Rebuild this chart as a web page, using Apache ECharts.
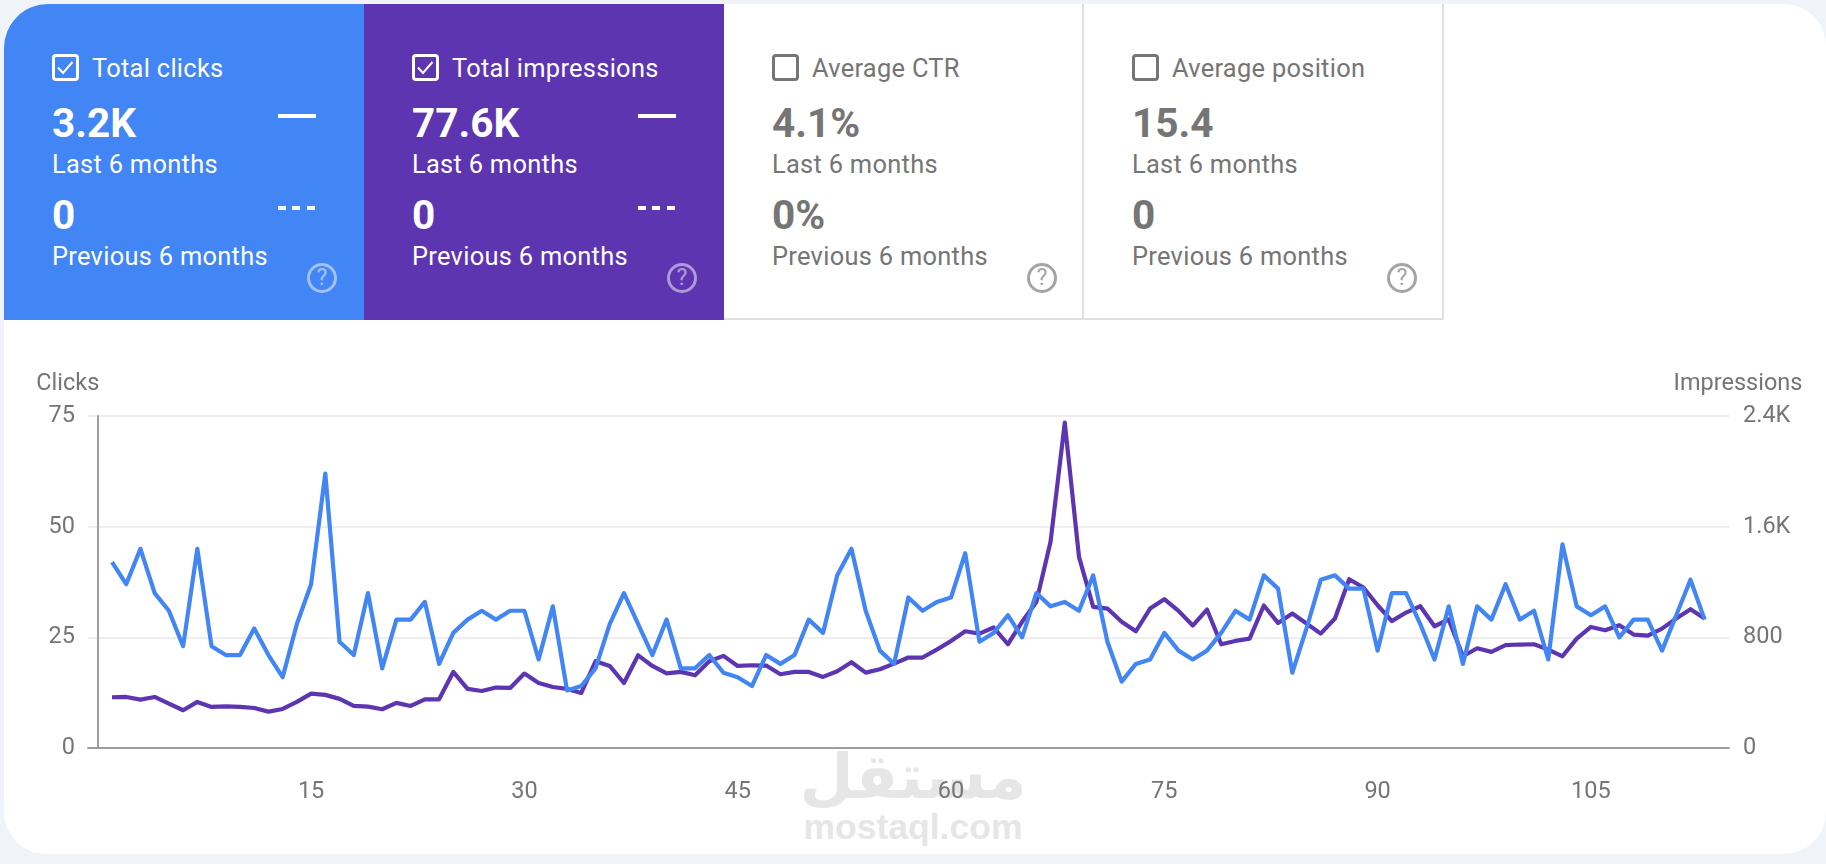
<!DOCTYPE html>
<html style="height: 100%">
<head>
    <meta charset="utf-8">
    <title>Performance</title>
    <script src="https://cdn.jsdelivr.net/npm/echarts@6/dist/echarts.min.js"></script>
    <style>
        html, body { margin: 0; height: 100%; overflow: hidden; background: #f0f4f9; font-family: Roboto, sans-serif; }
        #page { position: absolute; left: 4px; top: 4px; width: 1822px; height: 850px; background: #fff; border-radius: 42px; }
        #container { position: absolute; left: 0; top: 0; width: 1826px; height: 864px; }
        .card { position: absolute; top: 4px; width: 360px; height: 316px; box-sizing: border-box; color: #757575; }
        .card.on { color: #fff; }
        .card.off { border-right: 2px solid #e0e0e0; border-bottom: 2px solid #e0e0e0; }
        .card div { position: absolute; white-space: nowrap; }
        .box { left: 48px; top: 50px; width: 27px; height: 27px; box-sizing: border-box; border: 3px solid currentColor; border-radius: 4px; }
        .box svg { display: block; }
        .name { left: 88px; top: 50px; font-size: 25.4px; line-height: 28px; letter-spacing: 0.3px; }
        .big { left: 48px; font-size: 40.5px; line-height: 40px; font-weight: 700; }
        .big.a { top: 99px; }
        .big.b { top: 191px; }
        .small { left: 48px; font-size: 25.4px; line-height: 28px; letter-spacing: 0.3px; }
        .small.a { top: 146px; }
        .small.b { top: 238px; }
        .solid { left: 274px; top: 110px; width: 38px; height: 4px; background: #fff; }
        .dash { left: 274px; top: 202px; width: 37px; height: 4px;
            background: repeating-linear-gradient(90deg, #fff 0, #fff 8px, transparent 8px, transparent 14.5px); }
        .help { left: 303px; top: 259px; width: 30px; height: 30px; box-sizing: border-box; border: 3px solid currentColor;
            border-radius: 50%; font-size: 23px; line-height: 24px; text-align: center; opacity: .65; }
        .card.on .help { opacity: .5; }
        .wm { position: absolute; color: #e6e6e6; font-weight: 700; white-space: nowrap; text-align: center; left: 773px; width: 280px; }
        #wmAr { top: 732px; font-family: "DejaVu Sans"; font-size: 62px; line-height: 90px; }
        #wmEn { top: 807px; font-family: "Liberation Sans"; font-size: 35.5px; line-height: 40px; }
    </style>
</head>
<body>
<div id="page"></div>
<div class="wm" id="wmAr">مستقل</div>
<div class="wm" id="wmEn">mostaql.com</div>
<div id="cards"></div>
<div id="container"></div>
<script>
    // summary cards
    var cardNames = ['Total clicks', 'Total impressions', 'Average CTR', 'Average position'];
    var cardLast = ['3.2K', '77.6K', '4.1%', '15.4'];
    var cardPrev = ['0', '0', '0%', '0'];
    var cardColors = ['#4285f4', '#5e35b1', '', ''];
    var periodLast = 'Last 6 months';
    var periodPrev = 'Previous 6 months';

    // chart data, one value per day
    var days = [];
    for (var d = 1; d <= 113; d++) days.push(d);
    var clicks = [
        42, 37, 45, 35, 31, 23, 45, 23, 21, 21, 27, 21, 16, 28, 37, 62, 24, 21, 35, 18,
        29, 29, 33, 19, 26, 29, 31, 29, 31, 31, 20, 32, 13, 14, 18, 28, 35, 28, 21, 29,
        18, 18, 21, 17, 16, 14, 21, 19, 21, 29, 26, 39, 45, 31, 22, 19, 34, 31, 33, 34,
        44, 24, 26, 30, 25, 35, 32, 33, 31, 39, 24, 15, 19, 20, 26, 22, 20, 22, 26, 31,
        29, 39, 36, 17, 27, 38, 39, 36, 36, 22, 35, 35, 28, 20, 32, 19, 32, 29, 37, 29,
        31, 20, 46, 32, 30, 32, 25, 29, 29, 22, 30, 38, 29
    ];
    var impressions = [
        367, 369, 350, 369, 321, 273, 333, 297, 301, 297, 289, 263, 282, 333, 393, 384, 355, 304, 299, 280,
        326, 304, 352, 352, 550, 427, 412, 437, 434, 538, 470, 441, 427, 398, 627, 593, 470, 670, 593, 540,
        550, 526, 627, 666, 593, 598, 596, 533, 550, 550, 514, 555, 620, 545, 569, 610, 654, 654, 711, 774,
        844, 827, 871, 750, 912, 1056, 1491, 2352, 1382, 1020, 1008, 912, 844, 1008, 1076, 991, 885, 1001, 750, 774,
        791, 1030, 904, 972, 900, 827, 936, 1220, 1160, 1032, 917, 979, 1025, 880, 929, 663, 721, 695, 743, 748,
        750, 711, 663, 791, 875, 851, 888, 820, 813, 863, 936, 1003, 936
    ];
    var xTicks = [15, 30, 45, 60, 75, 90, 105];

    function pairs(values) {
        return values.map(function (v, i) { return [days[i], v]; });
    }

    var html = '';
    cardNames.forEach(function (name, i) {
        var on = cardColors[i] !== '';
        var left = 4 + i * 360;
        var style = 'left:' + left + 'px;' + (on ? 'background:' + cardColors[i] + ';' : '');
        if (i === 0) style += 'border-top-left-radius:44px;';
        html += '<div class="card ' + (on ? 'on' : 'off') + '" style="' + style + '">';
        html += '<div class="box">' + (on ? '<svg width="21" height="21" viewBox="0 0 21 21"><path d="M3 10.5l5 5.5 9.5-11" fill="none" stroke="#fff" stroke-width="2"/></svg>' : '') + '</div>';
        html += '<div class="name">' + name + '</div>';
        html += '<div class="big a">' + cardLast[i] + '</div>';
        html += '<div class="small a">' + periodLast + '</div>';
        html += '<div class="big b">' + cardPrev[i] + '</div>';
        html += '<div class="small b">' + periodPrev + '</div>';
        if (on) html += '<div class="solid"></div><div class="dash"></div>';
        html += '<div class="help">?</div></div>';
    });
    document.getElementById('cards').innerHTML = html;

    var textColor = '#757575';
    var myChart = echarts.init(document.getElementById('container'));
    var option = {
        animation: false,
        textStyle: { fontFamily: 'Roboto' },
        grid: { left: 88, right: 97, top: 416, bottom: 116 },
        xAxis: {
            type: 'value',
            // room left of 0 so the grid lines stick out past the y axis
            min: -0.688,
            max: 114.71,
            splitLine: { show: false },
            axisTick: { show: false },
            axisLine: { onZero: false, lineStyle: { color: '#9e9e9e', width: 2 } },
            axisLabel: { customValues: xTicks, color: textColor, fontSize: 23.5, margin: 32, showMinLabel: true, showMaxLabel: true }
        },
        yAxis: [
            {
                type: 'value',
                min: 0,
                max: 75,
                interval: 25,
                name: 'Clicks',
                nameLocation: 'end',
                nameGap: 32,
                nameTextStyle: { color: textColor, fontSize: 23.5, align: 'center', verticalAlign: 'middle', padding: [0, 60, 0, 0] },
                axisLine: { show: true, onZero: true, lineStyle: { color: '#9e9e9e', width: 2 } },
                axisTick: { show: false },
                axisLabel: { color: textColor, fontSize: 23.5, margin: 13, padding: [4, 0, 0, 0] },
                splitLine: { lineStyle: { color: '#eeeeee', width: 2 } }
            },
            {
                type: 'value',
                min: 0,
                max: 2400,
                interval: 800,
                position: 'right',
                name: 'Impressions',
                nameLocation: 'end',
                nameGap: 32,
                nameTextStyle: { color: textColor, fontSize: 23.5, align: 'center', verticalAlign: 'middle', padding: [0, 0, 0, 18] },
                axisLine: { show: false, onZero: false },
                axisTick: { show: false },
                splitLine: { show: false },
                axisLabel: {
                    color: textColor,
                    fontSize: 23.5,
                    margin: 14,
                    padding: [4, 0, 0, 0],
                    formatter: function (v) { return v >= 1000 ? (v / 1000).toFixed(1) + 'K' : String(v); }
                }
            }
        ],
        series: [
            {
                name: 'Impressions',
                type: 'line',
                yAxisIndex: 1,
                data: pairs(impressions),
                showSymbol: false,
                lineStyle: { color: '#5e35b1', width: 4.2, join: 'round' }
            },
            {
                name: 'Clicks',
                type: 'line',
                yAxisIndex: 0,
                data: pairs(clicks),
                showSymbol: false,
                lineStyle: { color: '#4285f4', width: 4.2, join: 'round' }
            }
        ]
    };
    myChart.setOption(option);
</script>
</body>
</html>
